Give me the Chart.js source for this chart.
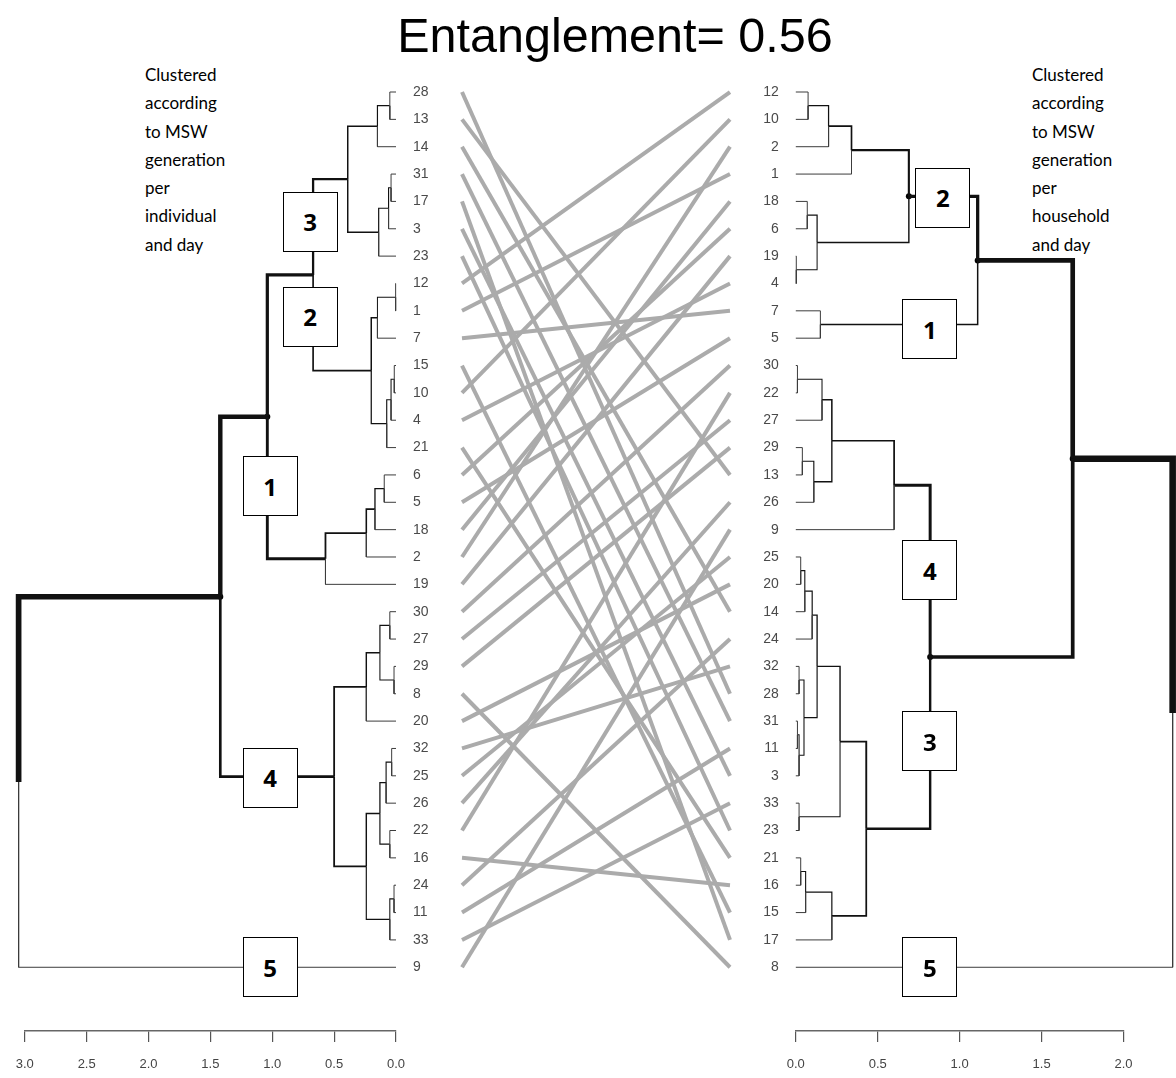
<!DOCTYPE html>
<html lang="en">
<head>
<meta charset="UTF-8">
<title>Entanglement= 0.56</title>
<script src="https://cdn.jsdelivr.net/npm/chart.js"></script>
<style>
  body { margin: 0; background: #fff; font-family: 'Liberation Sans', Arial, sans-serif; }
  #page { position: relative; width: 1176px; height: 1078px; overflow: hidden; }
  canvas { position: absolute; top: 0; }
  #title { position: absolute; left: 54px; top: 11px; width: 1122px; text-align: center; font-size: 48.5px; line-height: 48px; }
  .note { position: absolute; top: 61px; font-family: Lato, 'Open Sans', sans-serif; font-size: 17px; line-height: 28.3px; }
  .box { position: absolute; box-sizing: border-box; width: 55px; height: 60px; border: 1.5px solid #000; background: #fff;
         font: bold 24px 'Open Sans', sans-serif; display: flex; align-items: center; justify-content: center; }
</style>
</head>
<body>
<div id="page">
  <div id="title">Entanglement= 0.56</div>
  <div class="note" style="left:145px">Clustered<br>according<br>to MSW<br>generation<br>per<br>individual<br>and day</div>
  <div class="note" style="left:1032px">Clustered<br>according<br>to MSW<br>generation<br>per<br>household<br>and day</div>
  <canvas id="leftDend" width="440" height="1078" style="left:0px"></canvas>
  <canvas id="lines" width="300" height="1078" style="left:440px"></canvas>
  <canvas id="rightDend" width="436" height="1078" style="left:740px"></canvas>
</div>
<script>
// trees as [height, child, child]; plain numbers are the leaves
const leftTree = [3.05,
  [1.42,
    [1.04,
      [0.67,
        [0.39, [0.15, [0.05, 28, 13], 14], [0.14, [0.06, [0.04, 31, 17], 3], 23]],
        [0.20, [0.15, [0.003, 12, 1], 7], [0.075, [0.04, [0.014, 15, 10], 4], 21]]],
      [0.57, [0.24, [0.17, [0.095, 6, 5], 18], 2], 19]],
    [0.50,
      [0.24, [0.13, [0.05, 30, 27], [0.016, 29, 8]], 20],
      [0.24, [0.13, [0.08, [0.035, 32, 25], 26], [0.05, 22, 16]], [0.05, [0.016, 24, 11], 33]]]],
  9];

const rightTree = [2.30,
  [1.69,
    [1.11,
      [0.69, [0.34, [0.20, [0.075, 12, 10], 2], 1], [0.13, [0.07, 18, 6], [0.003, 19, 4]]],
      [0.15, 7, 5]],
    [0.82,
      [0.60, [0.22, [0.16, [0.01, 30, 22], 27], [0.11, [0.04, 29, 13], 26]], 9],
      [0.43,
        [0.27,
          [0.13, [0.10, [0.055, [0.03, 25, 20], 14], 24], [0.05, [0.02, 32, 28], [0.02, [0.01, 31, 11], 3]]],
          [0.02, 33, 23]],
        [0.22, [0.06, [0.03, 21, 16], 15], 17]]]],
  8];

const leftTicks = [0, 0.5, 1, 1.5, 2, 2.5, 3];
const rightTicks = [0, 0.5, 1, 1.5, 2];

// numbered cluster boxes: height and leaf position they sit on
const leftBoxes = [
  { t: '3', h: 0.695, pos: 4.74 },
  { t: '2', h: 0.695, pos: 8.21 },
  { t: '1', h: 1.018, pos: 14.41 },
  { t: '4', h: 1.018, pos: 25.08 },
  { t: '5', h: 1.018, pos: 32 }
];
const rightBoxes = [
  { t: '2', h: 0.898, pos: 3.86 },
  { t: '1', h: 0.819, pos: 8.67 },
  { t: '4', h: 0.819, pos: 17.48 },
  { t: '3', h: 0.819, pos: 23.74 },
  { t: '5', h: 0.819, pos: 32 }
];

const H = 1078, TOP = 64.66, BOTTOM = 1031;
const Y_MIN = -1, Y_MAX = 34.33;

Chart.defaults.font.family = "'Liberation Sans', Arial, sans-serif";

// walk the tree: leaf order, node positions and edges
function walkTree(tree) {
  const leaves = [], edges = [], nodes = [];
  function walk(n) {
    if (!Array.isArray(n)) {
      leaves.push(String(n));
      return { h: 0, pos: leaves.length - 1 };
    }
    const a = walk(n[1]), b = walk(n[2]);
    const node = { h: n[0], pos: (a.pos + b.pos) / 2 };
    edges.push({ p: node, c: a }, { p: node, c: b });
    nodes.push(node);
    return node;
  }
  const root = walk(tree);
  return { leaves, edges, nodes, root };
}

const L = walkTree(leftTree);
const R = walkTree(rightTree);

function branchSets(lay) {
  const sets = lay.edges.map(e => ({
    data: [{ x: e.p.h, y: e.p.pos }, { x: e.p.h, y: e.c.pos }, { x: e.c.h, y: e.c.pos }],
    borderColor: e.c.h > 0 ? '#111' : '#3c3c3c',
    borderWidth: 1 + 3.3 * e.c.h,
    showLine: true,
    pointRadius: 0,
    tension: 0,
    borderJoinStyle: 'miter',
    clip: false
  }));
  sets.push({
    data: lay.nodes.filter(n => n.h > 0.68 && n !== lay.root).map(n => ({ x: n.h, y: n.pos })),
    showLine: false,
    pointRadius: 3,
    backgroundColor: '#000',
    borderWidth: 0,
    clip: false
  });
  return sets;
}

function sideOptions(lay, ticks, reverse, yPos, yWidth, padding) {
  return {
    responsive: false,
    animation: false,
    events: [],
    layout: { padding: padding },
    plugins: { legend: { display: false }, tooltip: { enabled: false } },
    scales: {
      x: {
        type: 'linear', reverse: reverse, min: 0, max: ticks[ticks.length - 1],
        afterBuildTicks: s => { s.ticks = ticks.map(v => ({ value: v })); },
        afterFit: s => { s.height = H - BOTTOM; },
        ticks: { callback: v => Number(v).toFixed(1), color: '#444', font: { size: 13 }, padding: 15, maxRotation: 0, autoSkip: false },
        grid: { drawOnChartArea: false, drawTicks: true, tickLength: 11, color: '#555', lineWidth: 1.2 },
        border: { display: true, color: '#666', width: 1.5 }
      },
      y: {
        type: 'linear', reverse: true, min: Y_MIN, max: Y_MAX, position: yPos,
        afterBuildTicks: s => { s.ticks = lay.leaves.map((_, i) => ({ value: i })); },
        afterFit: s => { s.width = yWidth; },
        ticks: { callback: v => lay.leaves[v], color: '#4a4a4a', font: { size: 14 }, padding: 9, autoSkip: false },
        grid: { display: false },
        border: { display: false }
      }
    }
  };
}

const leftChart = new Chart(document.getElementById('leftDend'), {
  type: 'scatter',
  data: { datasets: branchSets(L) },
  options: sideOptions(L, leftTicks, true, 'right', 44, { left: 24.8, top: TOP, right: 0, bottom: 0 })
});

const rightChart = new Chart(document.getElementById('rightDend'), {
  type: 'scatter',
  data: { datasets: branchSets(R) },
  options: sideOptions(R, rightTicks, false, 'left', 55.8, { left: 0, top: TOP, right: 52.5, bottom: 0 })
});

// connecting lines between the same sample on both sides
const lineSets = L.leaves.map((lab, i) => ({
  data: [{ x: 0, y: i }, { x: 1, y: R.leaves.indexOf(lab) }],
  borderColor: '#ababab',
  borderWidth: 4,
  showLine: true,
  pointRadius: 0,
  clip: false
}));

new Chart(document.getElementById('lines'), {
  type: 'scatter',
  data: { datasets: lineSets },
  options: {
    responsive: false,
    animation: false,
    events: [],
    layout: { padding: { left: 22, right: 10, top: TOP, bottom: H - BOTTOM } },
    plugins: { legend: { display: false }, tooltip: { enabled: false } },
    scales: {
      x: { display: false, min: 0, max: 1 },
      y: { display: false, reverse: true, min: Y_MIN, max: Y_MAX }
    }
  }
});

function placeBoxes(chart, offset, boxes) {
  const page = document.getElementById('page');
  boxes.forEach(b => {
    const d = document.createElement('div');
    d.className = 'box';
    d.textContent = b.t;
    d.style.left = (offset + chart.scales.x.getPixelForValue(b.h) - 27.5) + 'px';
    d.style.top = (chart.scales.y.getPixelForValue(b.pos) - 30) + 'px';
    page.appendChild(d);
  });
}
placeBoxes(leftChart, 0, leftBoxes);
placeBoxes(rightChart, 740, rightBoxes);
</script>
</body>
</html>
